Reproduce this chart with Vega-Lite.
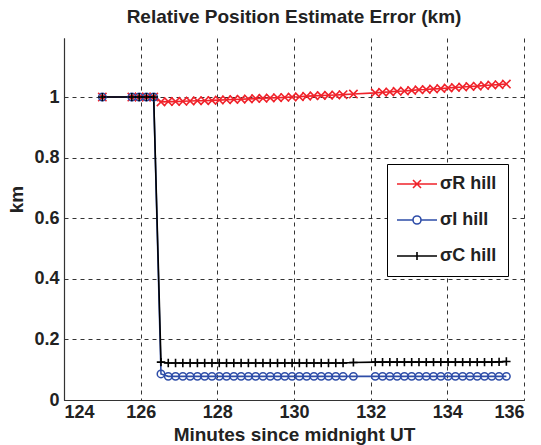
{
  "$schema": "https://vega.github.io/schema/vega-lite/v6.json",
  "width": 460,
  "height": 362,
  "autosize": {"type": "none"},
  "padding": {"left": 64, "top": 38, "right": 17, "bottom": 45},
  "background": "white",
  "title": {"text": "Relative Position Estimate Error (km)", "font": "Liberation Sans", "fontSize": 19, "fontWeight": "bold", "color": "#222", "offset": 11},
  "config": {
    "view": {"stroke": null},
    "font": "Liberation Sans",
    "axis": {
      "domainColor": "#333", "domainWidth": 1.2,
      "labelFont": "Liberation Sans", "labelFontSize": 18, "labelFontWeight": "bold", "labelColor": "#222",
      "titleFont": "Liberation Sans", "titleFontSize": 19, "titleFontWeight": "bold", "titleColor": "#222",
      "ticks": false, "tickSize": 0,
      "gridColor": "#333", "gridDash": [4, 4], "gridWidth": 1, "gridOpacity": 1
    }
  },
  "datasets": {
    "main": [
      {"t":125.00,"v":1,"s":"R"},{"t":125.77,"v":1,"s":"R"},{"t":125.96,"v":1,"s":"R"},{"t":126.15,"v":1,"s":"R"},{"t":126.34,"v":1,"s":"R"},
      {"t":126.53,"v":0.984,"s":"R"},{"t":126.72,"v":0.985,"s":"R"},{"t":126.91,"v":0.985,"s":"R"},{"t":127.10,"v":0.986,"s":"R"},{"t":127.29,"v":0.987,"s":"R"},
      {"t":127.48,"v":0.988,"s":"R"},{"t":127.67,"v":0.988,"s":"R"},{"t":127.86,"v":0.989,"s":"R"},{"t":128.05,"v":0.990,"s":"R"},{"t":128.24,"v":0.991,"s":"R"},
      {"t":128.43,"v":0.992,"s":"R"},{"t":128.62,"v":0.993,"s":"R"},{"t":128.81,"v":0.994,"s":"R"},{"t":129.00,"v":0.995,"s":"R"},{"t":129.19,"v":0.996,"s":"R"},
      {"t":129.38,"v":0.997,"s":"R"},{"t":129.57,"v":0.998,"s":"R"},{"t":129.76,"v":0.999,"s":"R"},{"t":129.95,"v":1.000,"s":"R"},{"t":130.14,"v":1.001,"s":"R"},
      {"t":130.33,"v":1.003,"s":"R"},{"t":130.52,"v":1.004,"s":"R"},{"t":130.71,"v":1.005,"s":"R"},{"t":130.90,"v":1.006,"s":"R"},{"t":131.09,"v":1.007,"s":"R"},
      {"t":131.28,"v":1.008,"s":"R"},{"t":131.55,"v":1.010,"s":"R"},
      {"t":132.12,"v":1.014,"s":"R"},{"t":132.31,"v":1.016,"s":"R"},{"t":132.50,"v":1.017,"s":"R"},{"t":132.69,"v":1.019,"s":"R"},{"t":132.88,"v":1.020,"s":"R"},
      {"t":133.07,"v":1.022,"s":"R"},{"t":133.26,"v":1.024,"s":"R"},{"t":133.45,"v":1.025,"s":"R"},{"t":133.64,"v":1.027,"s":"R"},{"t":133.83,"v":1.028,"s":"R"},
      {"t":134.02,"v":1.030,"s":"R"},{"t":134.21,"v":1.032,"s":"R"},{"t":134.40,"v":1.033,"s":"R"},{"t":134.59,"v":1.035,"s":"R"},{"t":134.78,"v":1.036,"s":"R"},
      {"t":134.97,"v":1.038,"s":"R"},{"t":135.16,"v":1.040,"s":"R"},{"t":135.35,"v":1.041,"s":"R"},{"t":135.54,"v":1.043,"s":"R"},

      {"t":125.00,"v":1,"s":"I"},{"t":125.77,"v":1,"s":"I"},{"t":125.96,"v":1,"s":"I"},{"t":126.15,"v":1,"s":"I"},{"t":126.34,"v":1,"s":"I"},
      {"t":126.53,"v":0.086,"s":"I"},{"t":126.72,"v":0.078,"s":"I"},{"t":126.91,"v":0.078,"s":"I"},{"t":127.10,"v":0.078,"s":"I"},{"t":127.29,"v":0.078,"s":"I"},
      {"t":127.48,"v":0.078,"s":"I"},{"t":127.67,"v":0.078,"s":"I"},{"t":127.86,"v":0.078,"s":"I"},{"t":128.05,"v":0.078,"s":"I"},{"t":128.24,"v":0.078,"s":"I"},
      {"t":128.43,"v":0.078,"s":"I"},{"t":128.62,"v":0.078,"s":"I"},{"t":128.81,"v":0.078,"s":"I"},{"t":129.00,"v":0.078,"s":"I"},{"t":129.19,"v":0.078,"s":"I"},
      {"t":129.38,"v":0.078,"s":"I"},{"t":129.57,"v":0.078,"s":"I"},{"t":129.76,"v":0.078,"s":"I"},{"t":129.95,"v":0.078,"s":"I"},{"t":130.14,"v":0.078,"s":"I"},
      {"t":130.33,"v":0.078,"s":"I"},{"t":130.52,"v":0.078,"s":"I"},{"t":130.71,"v":0.078,"s":"I"},{"t":130.90,"v":0.078,"s":"I"},{"t":131.09,"v":0.078,"s":"I"},
      {"t":131.28,"v":0.078,"s":"I"},{"t":131.55,"v":0.078,"s":"I"},
      {"t":132.12,"v":0.078,"s":"I"},{"t":132.31,"v":0.078,"s":"I"},{"t":132.50,"v":0.078,"s":"I"},{"t":132.69,"v":0.078,"s":"I"},{"t":132.88,"v":0.078,"s":"I"},
      {"t":133.07,"v":0.078,"s":"I"},{"t":133.26,"v":0.078,"s":"I"},{"t":133.45,"v":0.078,"s":"I"},{"t":133.64,"v":0.078,"s":"I"},{"t":133.83,"v":0.078,"s":"I"},
      {"t":134.02,"v":0.078,"s":"I"},{"t":134.21,"v":0.078,"s":"I"},{"t":134.40,"v":0.078,"s":"I"},{"t":134.59,"v":0.078,"s":"I"},{"t":134.78,"v":0.078,"s":"I"},
      {"t":134.97,"v":0.078,"s":"I"},{"t":135.16,"v":0.078,"s":"I"},{"t":135.35,"v":0.078,"s":"I"},{"t":135.54,"v":0.078,"s":"I"},

      {"t":125.00,"v":1,"s":"C"},{"t":125.77,"v":1,"s":"C"},{"t":125.96,"v":1,"s":"C"},{"t":126.15,"v":1,"s":"C"},{"t":126.34,"v":1,"s":"C"},
      {"t":126.53,"v":0.125,"s":"C"},{"t":126.72,"v":0.122,"s":"C"},{"t":126.91,"v":0.122,"s":"C"},{"t":127.10,"v":0.122,"s":"C"},{"t":127.29,"v":0.122,"s":"C"},
      {"t":127.48,"v":0.122,"s":"C"},{"t":127.67,"v":0.122,"s":"C"},{"t":127.86,"v":0.122,"s":"C"},{"t":128.05,"v":0.122,"s":"C"},{"t":128.24,"v":0.122,"s":"C"},
      {"t":128.43,"v":0.122,"s":"C"},{"t":128.62,"v":0.122,"s":"C"},{"t":128.81,"v":0.122,"s":"C"},{"t":129.00,"v":0.122,"s":"C"},{"t":129.19,"v":0.122,"s":"C"},
      {"t":129.38,"v":0.122,"s":"C"},{"t":129.57,"v":0.122,"s":"C"},{"t":129.76,"v":0.122,"s":"C"},{"t":129.95,"v":0.122,"s":"C"},{"t":130.14,"v":0.122,"s":"C"},
      {"t":130.33,"v":0.122,"s":"C"},{"t":130.52,"v":0.122,"s":"C"},{"t":130.71,"v":0.122,"s":"C"},{"t":130.90,"v":0.122,"s":"C"},{"t":131.09,"v":0.122,"s":"C"},
      {"t":131.28,"v":0.122,"s":"C"},{"t":131.55,"v":0.124,"s":"C"},
      {"t":132.12,"v":0.125,"s":"C"},{"t":132.31,"v":0.125,"s":"C"},{"t":132.50,"v":0.125,"s":"C"},{"t":132.69,"v":0.125,"s":"C"},{"t":132.88,"v":0.125,"s":"C"},
      {"t":133.07,"v":0.125,"s":"C"},{"t":133.26,"v":0.125,"s":"C"},{"t":133.45,"v":0.125,"s":"C"},{"t":133.64,"v":0.125,"s":"C"},{"t":133.83,"v":0.125,"s":"C"},
      {"t":134.02,"v":0.125,"s":"C"},{"t":134.21,"v":0.125,"s":"C"},{"t":134.40,"v":0.125,"s":"C"},{"t":134.59,"v":0.125,"s":"C"},{"t":134.78,"v":0.125,"s":"C"},
      {"t":134.97,"v":0.125,"s":"C"},{"t":135.16,"v":0.125,"s":"C"},{"t":135.35,"v":0.126,"s":"C"},{"t":135.54,"v":0.127,"s":"C"}
    ]
  },
  "layer": [
    {
      "mark": {"type": "rule", "color": "#000", "strokeWidth": 1},
      "encoding": {
        "y": {"datum": 1, "type": "quantitative", "scale": {"domain": [0, 1.195], "nice": false, "zero": false},
          "axis": {"values": [0, 0.2, 0.4, 0.6, 0.8, 1], "format": "~g", "grid": true, "labelPadding": 5, "title": "km", "titleX": -48, "titleY": 161, "titleAngle": 270, "titleBaseline": "middle"}}
      }
    },
    {
      "mark": {"type": "rule", "color": "#333", "strokeWidth": 1.2},
      "encoding": {
        "x": {"datum": 136, "type": "quantitative", "scale": {"domain": [124, 136], "nice": false, "zero": false},
          "axis": {"values": [124, 126, 128, 130, 132, 134, 136], "grid": true, "labelPadding": 3, "title": "Minutes since midnight UT", "titlePadding": 4}}
      }
    },
    {
      "data": {"name": "main"},
      "mark": {"type": "line", "interpolate": "linear"},
      "encoding": {
        "x": {"field": "t", "type": "quantitative"},
        "y": {"field": "v", "type": "quantitative"},
        "color": {"field": "s", "type": "nominal", "sort": null, "scale": {"domain": ["R", "I", "C"], "range": ["#F0232B", "#2E4DA8", "#000000"]},
          "legend": {
            "orient": "none", "legendX": 323, "legendY": 126, "title": null,
            "strokeColor": "#000", "fillColor": "white", "padding": 11,
            "labelFont": "Liberation Sans", "labelFontSize": 18, "labelFontWeight": "bold", "labelColor": "#222",
            "labelExpr": "'σ' + datum.label + ' hill'",
            "symbolSize": 64, "symbolOffset": 10, "labelOffset": 14, "rowPadding": 18,
            "symbolStrokeWidth": 1.6, "symbolFillColor": "transparent",
            "encode": {
              "symbols": {"update": {
                "shape": {"signal": "datum.value === 'R' ? 'M-5,0L5,0M-1,-1L1,1M-1,1L1,-1' : datum.value === 'I' ? 'M-5,0L-1,0M1,0L5,0M-1,0A1,1,0,1,0,1,0A1,1,0,1,0,-1,0' : 'M-5,0L5,0M0,-1L0,1'"},
                "strokeWidth": {"signal": "datum.value === 'C' ? 2 : 1.6"},
                "fill": {"value": "transparent"}
              }}
            }
          }
        },
        "strokeWidth": {"field": "s", "type": "nominal", "scale": {"domain": ["R", "I", "C"], "range": [1.6, 1.6, 2.2]}, "legend": null},
        "order": {"field": "t", "type": "quantitative"}
      }
    },
    {
      "data": {"name": "main"},
      "transform": [{"filter": "datum.s === 'R'"}],
      "mark": {"type": "point", "filled": false, "strokeWidth": 1.6, "opacity": 1, "color": "#F0232B", "shape": "M-1,-1L1,1M-1,1L1,-1", "size": 70},
      "encoding": {
        "x": {"field": "t", "type": "quantitative"},
        "y": {"field": "v", "type": "quantitative"}
      }
    },
    {
      "data": {"name": "main"},
      "transform": [{"filter": "datum.s === 'I'"}],
      "mark": {"type": "point", "filled": false, "strokeWidth": 1.5, "opacity": 1, "color": "#2E4DA8", "shape": "circle", "size": 56},
      "encoding": {
        "x": {"field": "t", "type": "quantitative"},
        "y": {"field": "v", "type": "quantitative"}
      }
    },
    {
      "data": {"name": "main"},
      "transform": [{"filter": "datum.s === 'C'"}],
      "mark": {"type": "point", "filled": false, "strokeWidth": 1.6, "opacity": 1, "color": "#000000", "shape": "M-1,0L1,0M0,-1L0,1", "size": 70},
      "encoding": {
        "x": {"field": "t", "type": "quantitative"},
        "y": {"field": "v", "type": "quantitative"}
      }
    }
  ]
}
